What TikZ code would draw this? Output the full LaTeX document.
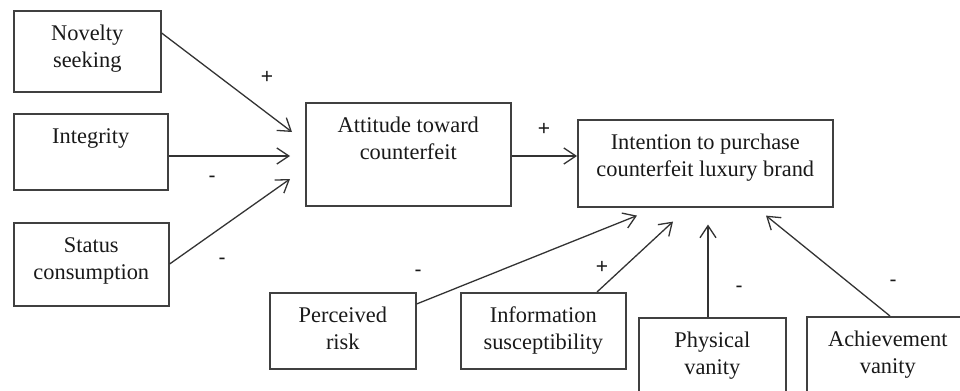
\documentclass[tikz,border=0pt]{standalone}
\usepackage{fontspec}
\setmainfont{Liberation Serif}
\newfontfamily\signfont{Liberation Sans}
\usetikzlibrary{arrows.meta}
\newcommand{\boxtext}[3]{\parbox[t][#2][t]{#1}{\centering\rule{0pt}{15pt}#3}}

\begin{document}
\begin{tikzpicture}[x=0.5pt, y=-0.5pt, >={Straight Barb[length=6pt,width=8pt]}]
	\tikzstyle{box}=[rectangle, draw=black!75, line width=0.8pt, inner sep=0pt, anchor=north west, text=black!90, font=\fontsize{11.2}{13.5}\selectfont]
	\tikzstyle{connect}=[->, line width=0.65pt, draw=black!80]
	\tikzstyle{sign}=[inner sep=0pt, text=black!90, font=\signfont\fontsize{10.5}{10.5}\selectfont]
	
	\useasboundingbox (0,0) rectangle (960,391);
	\clip (0,0) rectangle (960,391);
	
	\node[box] (nov) at (13,10) {\boxtext{73.5pt}{40.5pt}{Novelty\\seeking}};
	\node[box] (integ) at (13,113) {\boxtext{77pt}{38pt}{Integrity}};
	\node[box] (status) at (13,222) {\boxtext{77.5pt}{41.5pt}{Status\\consumption}};
	
	\node[box] (att) at (305,102) {\boxtext{102.5pt}{51.5pt}{Attitude toward\\counterfeit}};
	\node[box] (intent) at (577,119) {\boxtext{127.5pt}{43.5pt}{Intention to purchase\\counterfeit luxury brand}};
	
	\node[box] (risk) at (269,292) {\boxtext{73pt}{38pt}{Perceived\\risk}};
	\node[box] (info) at (460,292) {\boxtext{82.5pt}{38pt}{Information\\susceptibility}};
	\node[box] (phys) at (638,317) {\boxtext{73.5pt}{45pt}{Physical\\vanity}};
	\node[box] (ach) at (806,316) {\boxtext{81pt}{45pt}{Achievement\\vanity}};
	
	\node[sign] (sNov) at (267,77) {+};
	\node[sign] (sInteg) at (212,179) {-};
	\node[sign] (sStatus) at (222,261) {-};
	\node[sign] (sAtt) at (544,129) {+};
	\node[sign] (sRisk) at (418,273) {-};
	\node[sign] (sInfo) at (602,267) {+};
	\node[sign] (sPhys) at (739,289) {-};
	\node[sign] (sAch) at (893,283) {-};
	
	\path ([shift={(0,23)}]nov.north east) edge [connect] ([shift={(-13,30)}]att.north west)
	([shift={(0,43)}]integ.north east) edge [connect] ([shift={(-15,54)}]att.north west)
	([shift={(0,42)}]status.north east) edge [connect] ([shift={(-15,77)}]att.north west)
	
	([shift={(0,54)}]att.north east) edge [connect] ([shift={(0,37)}]intent.north west)
	
	([shift={(0,12)}]risk.north east) edge [connect] ([shift={(60,8)}]intent.south west)
	([shift={(137,0)}]info.north west) edge [connect] ([shift={(96,14)}]intent.south west)
	([shift={(70,0)}]phys.north west) edge [connect] ([shift={(131,17)}]intent.south west)
	([shift={(84,0)}]ach.north west) edge [connect] ([shift={(189,8)}]intent.south west);
	
\end{tikzpicture}
\end{document}
